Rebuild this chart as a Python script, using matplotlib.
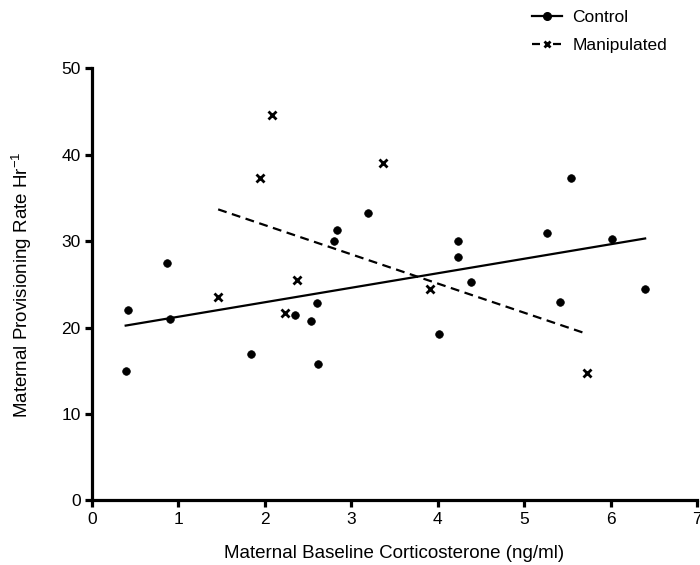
# Maternal provisioning rate vs baseline corticosterone, control vs manipulated

import numpy as np
import matplotlib.pyplot as plt

plt.rcParams['font.family'] = ['Liberation Sans', 'DejaVu Sans']
plt.rcParams['mathtext.default'] = 'regular'

ctrl_x = [0.39, 0.42, 0.87, 0.90, 1.84, 2.35, 2.53, 2.60, 2.62, 2.80, 2.84,
          3.19, 4.02, 4.24, 4.24, 4.38, 5.27, 5.42, 5.54, 6.02, 6.40]
ctrl_y = [15.0, 22.0, 27.5, 21.0, 17.0, 21.5, 20.8, 22.8, 15.8, 30.0, 31.3,
          33.3, 19.3, 30.0, 28.2, 25.3, 31.0, 23.0, 37.3, 30.3, 24.5]

manip_x = [1.46, 1.94, 2.08, 2.23, 2.37, 3.37, 3.91, 5.73]
manip_y = [23.5, 37.3, 44.6, 21.7, 25.5, 39.1, 24.5, 14.8]

fig = plt.figure(figsize=(7, 5.65), dpi=100)
ax = fig.add_axes([0.1314, 0.1142, 0.8643, 0.7646])

# regression lines over each group's x range
for xs, ys, ls, mk, ms in [(ctrl_x, ctrl_y, '-', 'o', 5.5),
                           (manip_x, manip_y, (0, (4, 2.5)), 'x', 6)]:
    xs = np.array(xs)
    ys = np.array(ys)
    m, b = np.polyfit(xs, ys, 1)
    xl = np.array([xs.min(), xs.max()])
    ax.plot(xl, m * xl + b, color='black', linestyle=ls, linewidth=1.6)
    ax.plot(xs, ys, linestyle='none', marker=mk, color='black',
            markersize=ms, markeredgewidth=2 if mk == 'x' else 0.5)

ax.set_xlim(0, 7)
ax.set_ylim(0, 50)
ax.set_xticks(range(0, 8))
ax.set_yticks(range(0, 60, 10))

for s in ['top', 'right']:
    ax.spines[s].set_visible(False)
for s in ['left', 'bottom']:
    ax.spines[s].set_linewidth(2.3)
ax.tick_params(width=2.3, length=5, labelsize=12.5, pad=3)

ax.set_xlabel('Maternal Baseline Corticosterone (ng/ml)', fontsize=13.5, labelpad=13)
ax.set_ylabel('Maternal Provisioning Rate Hr$^{-1}$', fontsize=13.5, labelpad=20)

# legend handles: short dash, marker, short dash
h1, = ax.plot([], [], color='black', linestyle='-', linewidth=1.6, marker='o', markersize=5.5)
h2, = ax.plot([], [], color='black', linestyle=(0, (3.6, 5.85)), linewidth=1.6, marker='x',
              markersize=5, markeredgewidth=2)
fig.legend([h1, h2], ['Control', 'Manipulated'], loc='upper left',
           bbox_to_anchor=(0.738, 1.01), frameon=False, fontsize=12.5,
           handlelength=1.7, handletextpad=0.6, labelspacing=0.75)

fig.savefig('out.png', dpi=100)
